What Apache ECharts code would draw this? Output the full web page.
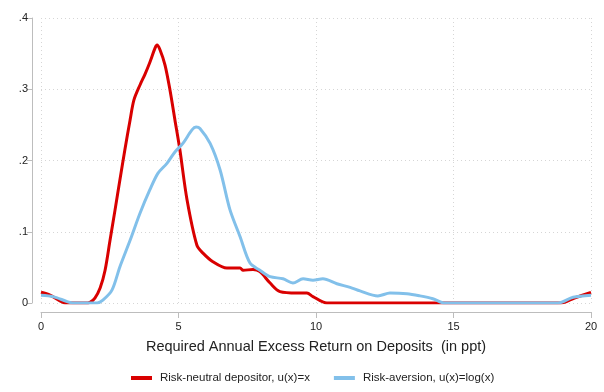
<!DOCTYPE html>
<html>
<head>
<meta charset="utf-8">
<script src="https://cdn.jsdelivr.net/npm/echarts@6/dist/echarts.min.js"></script>
<style>
  html, body { margin: 0; padding: 0; background: #fff; }
  #chart { width: 604px; height: 392px; }
</style>
</head>
<body>
<div id="chart"></div>
<script>
// 数据：x 为超额回报 (ppt)，y 为密度
const neutralX = [0, 0.33, 0.69, 0.87, 1.6, 1.78, 1.96, 2.15, 2.33, 2.51, 2.69, 2.87, 3.05, 3.24, 3.38, 3.6, 3.78, 3.96, 4.15, 4.22, 4.33, 4.51, 4.69, 4.87, 5.05, 5.31, 5.67, 5.89, 6.25, 6.76, 7.24, 7.35, 7.71, 7.96, 8.33, 8.69, 9.31, 9.67, 9.89, 10.4, 18.9, 19.4, 20]
const neutralY = [0.015, 0.011, 0.003, 0, 0, 0.001, 0.007, 0.021, 0.046, 0.088, 0.13, 0.173, 0.215, 0.257, 0.285, 0.306, 0.321, 0.338, 0.358, 0.362, 0.355, 0.334, 0.299, 0.257, 0.215, 0.145, 0.081, 0.07, 0.058, 0.049, 0.049, 0.046, 0.047, 0.044, 0.028, 0.016, 0.014, 0.014, 0.009, 0, 0, 0.007, 0.015]
const averseX = [0, 0.44, 0.95, 1.16, 2.04, 2.25, 2.58, 2.87, 3.24, 3.6, 3.96, 4.25, 4.58, 4.87, 5.16, 5.49, 5.64, 5.78, 6.15, 6.51, 6.87, 7.24, 7.6, 7.96, 8.33, 8.8, 9.16, 9.53, 9.89, 10.25, 10.76, 11.24, 11.6, 12.25, 12.69, 13.31, 13.78, 14.25, 14.69, 18.8, 19.35, 20]
const averseY = [0.011, 0.009, 0.002, 0, 0, 0.004, 0.018, 0.051, 0.088, 0.126, 0.159, 0.182, 0.196, 0.212, 0.224, 0.243, 0.247, 0.245, 0.224, 0.187, 0.131, 0.093, 0.056, 0.046, 0.037, 0.034, 0.028, 0.034, 0.032, 0.034, 0.027, 0.022, 0.017, 0.01, 0.014, 0.013, 0.01, 0.006, 0, 0, 0.008, 0.011]
const xTicks = [0, 5, 10, 15, 20]
const yTicks = [0, 0.1, 0.2, 0.3, 0.4]
const seriesNames = ['Risk-neutral depositor, u(x)=x', 'Risk-aversion, u(x)=log(x)']

const pairs = (xs, ys) => xs.map((x, i) => [x, ys[i]])

const chart = echarts.init(document.getElementById('chart'))
const font = 'Liberation Sans, Arial, sans-serif'
const gridLine = { show: true, lineStyle: { color: '#d6d6d6', type: [1, 3], width: 1 } }

const option = {
  animation: false,
  textStyle: { fontFamily: font },
  grid: { left: 41, right: 13, top: 18, bottom: 89 },
  legend: {
    bottom: 3,
    left: 126,
    icon: 'rect',
    itemWidth: 21,
    itemHeight: 4,
    itemGap: 24,
    textStyle: { fontSize: 11.5, color: '#222', fontFamily: font, padding: [0, 0, 0, 3] },
    data: seriesNames
  },
  xAxis: {
    type: 'value',
    min: xTicks[0],
    max: xTicks[xTicks.length - 1],
    interval: 5,
    offset: 9,
    name: 'Required Annual Excess Return on Deposits  (in ppt)',
    nameLocation: 'middle',
    nameGap: 27,
    nameTextStyle: { fontSize: 14.5, color: '#222', fontFamily: font },
    axisLine: { onZero: false, lineStyle: { color: '#bdbdbd', width: 1 } },
    axisTick: { show: true, length: 6, lineStyle: { color: '#bdbdbd' } },
    axisLabel: { fontSize: 11, color: '#222', margin: 9 },
    splitLine: gridLine
  },
  yAxis: {
    type: 'value',
    min: yTicks[0],
    max: yTicks[yTicks.length - 1],
    interval: 0.1,
    offset: 9,
    axisLine: { show: true, onZero: false, lineStyle: { color: '#bdbdbd', width: 1 } },
    axisTick: { show: true, length: 5, lineStyle: { color: '#bdbdbd' } },
    axisLabel: {
      fontSize: 11,
      color: '#222',
      margin: 4,
      formatter: v => (v === 0 ? '0' : String(Math.round(v * 10) / 10).replace(/^0/, ''))
    },
    splitLine: gridLine
  },
  series: [
    {
      name: seriesNames[0],
      type: 'line',
      data: pairs(neutralX, neutralY),
      showSymbol: false,
      smooth: 0.3,
      lineStyle: { width: 3, color: '#d90000' },
      itemStyle: { color: '#d90000' },
      z: 3
    },
    {
      name: seriesNames[1],
      type: 'line',
      data: pairs(averseX, averseY),
      showSymbol: false,
      smooth: 0.3,
      lineStyle: { width: 3, color: '#82c0ea' },
      itemStyle: { color: '#82c0ea' },
      z: 4
    }
  ]
}
chart.setOption(option)
window.addEventListener('resize', () => {
  chart.resize()
})
</script>
</body>
</html>
